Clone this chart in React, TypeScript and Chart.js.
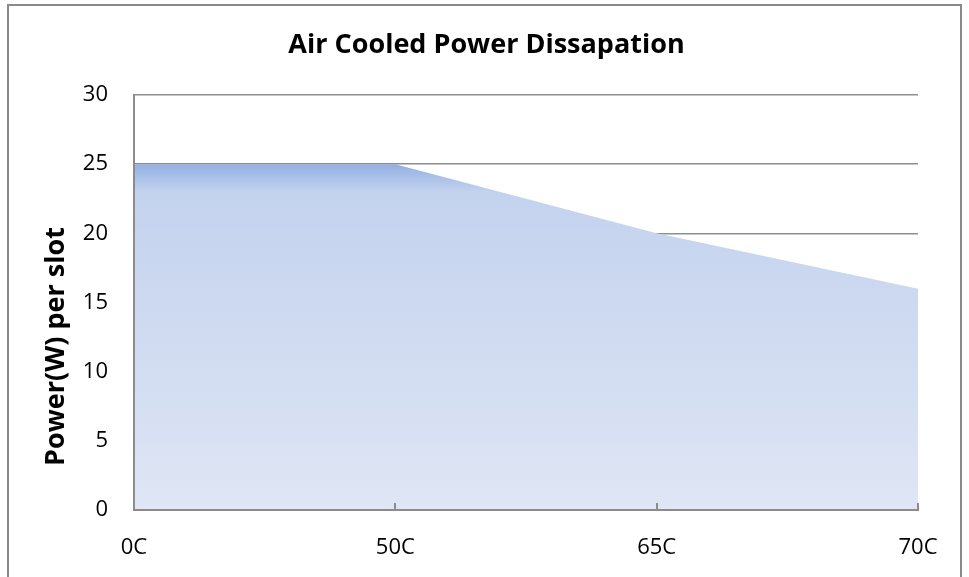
import { useEffect, useRef } from "react";
import { Chart, registerables } from "chart.js";

Chart.register(...registerables);

const categories = ["0C", "50C", "65C", "70C"];
const powerValues = [25, 25, 20, 16];
const yTickValues = [0, 5, 10, 15, 20, 25, 30];
const chartTitle = "Air Cooled Power Dissapation";
const yAxisTitle = "Power(W) per slot";

const FONT = "'Open Sans', 'DejaVu Sans', sans-serif";
const AXIS_GRAY = "#8c8c8c";

export default function App() {
  const ref = useRef<HTMLCanvasElement | null>(null);

  useEffect(() => {
    document.body.style.margin = "0";
    const canvas = ref.current;
    if (!canvas) return;

    const framePlugin = {
      id: "frame",
      beforeDraw(chart: any) {
        const ctx = chart.ctx;
        ctx.save();
        ctx.fillStyle = "#ffffff";
        ctx.fillRect(0, 0, chart.width, chart.height);
        ctx.strokeStyle = "#8a8a8a";
        ctx.lineWidth = 2;
        ctx.strokeRect(8, 5, chart.width - 16, chart.height + 20);
        ctx.restore();
      },
    };

    const textPlugin = {
      id: "texts",
      afterDraw(chart: any) {
        const ctx = chart.ctx;
        const area = chart.chartArea;
        ctx.save();
        ctx.fillStyle = "#000";
        ctx.textAlign = "center";
        ctx.textBaseline = "middle";
        ctx.font = `bold 27px ${FONT}`;
        ctx.fillText(chartTitle, chart.width / 2 + 2, 45);
        ctx.translate(area.left - 78, (area.top + area.bottom) / 2 + 44);
        ctx.rotate(-Math.PI / 2);
        ctx.fillText(yAxisTitle, 0, 0);
        ctx.restore();
      },
    };

    const xTickMarks = {
      id: "xTickMarks",
      afterDraw(chart: any) {
        const ctx = chart.ctx;
        const x = chart.scales.x;
        const bottom = chart.chartArea.bottom;
        ctx.save();
        ctx.strokeStyle = AXIS_GRAY;
        ctx.lineWidth = 2;
        categories.forEach((_, i) => {
          if (i === 0) return;
          const px = Math.round(x.getPixelForTick(i));
          ctx.beginPath();
          ctx.moveTo(px, bottom);
          ctx.lineTo(px, bottom - 7);
          ctx.stroke();
        });
        ctx.restore();
      },
    };

    const chart = new Chart(canvas, {
      type: "line",
      data: {
        labels: categories,
        datasets: [
          {
            label: "Power(W) per slot",
            data: powerValues,
            fill: "origin",
            borderWidth: 0,
            pointRadius: 0,
            tension: 0,
            backgroundColor: (c: any) => {
              const ch = c.chart;
              const y = ch.scales && ch.scales.y;
              if (!ch.chartArea || !y) return "#c7d5ef";
              const top = y.getPixelForValue(Math.max(...powerValues));
              const bot = y.getPixelForValue(0);
              const g = ch.ctx.createLinearGradient(0, top, 0, bot);
              g.addColorStop(0, "#93b0e2");
              g.addColorStop(0.08, "#c3d2ee");
              g.addColorStop(1, "#dfe6f5");
              return g;
            },
          },
        ],
      },
      options: {
        responsive: false,
        animation: false,
        layout: { padding: { left: 0, right: 51, top: 95, bottom: 0 } },
        plugins: {
          legend: { display: false },
          tooltip: { enabled: false },
          title: { display: false },
        },
        scales: {
          x: {
            offset: false,
            grid: { display: false, drawTicks: false },
            border: { display: true, color: AXIS_GRAY, width: 2, z: 1 },
            ticks: {
              color: "#000",
              font: { family: FONT, size: 22 },
              padding: 25,
              maxRotation: 0,
            },
            afterFit: (s: any) => {
              s.height = 67;
            },
          },
          y: {
            min: 0,
            max: 30,
            afterBuildTicks: (s: any) => {
              s.ticks = yTickValues.map((v) => ({ value: v }));
            },
            grid: { color: "#8e8e8e", lineWidth: 1.5, drawTicks: false },
            border: { display: true, color: AXIS_GRAY, width: 2, z: 1 },
            ticks: {
              color: "#000",
              font: { family: FONT, size: 22 },
              padding: 26,
            },
            afterFit: (s: any) => {
              s.width = 134;
            },
          },
        },
      },
      plugins: [framePlugin, textPlugin, xTickMarks],
    } as any);

    return () => chart.destroy();
  }, []);

  return (
    <div style={{ width: 969, height: 577 }}>
      <canvas ref={ref} width={969} height={577} style={{ display: "block" }} />
    </div>
  );
}
